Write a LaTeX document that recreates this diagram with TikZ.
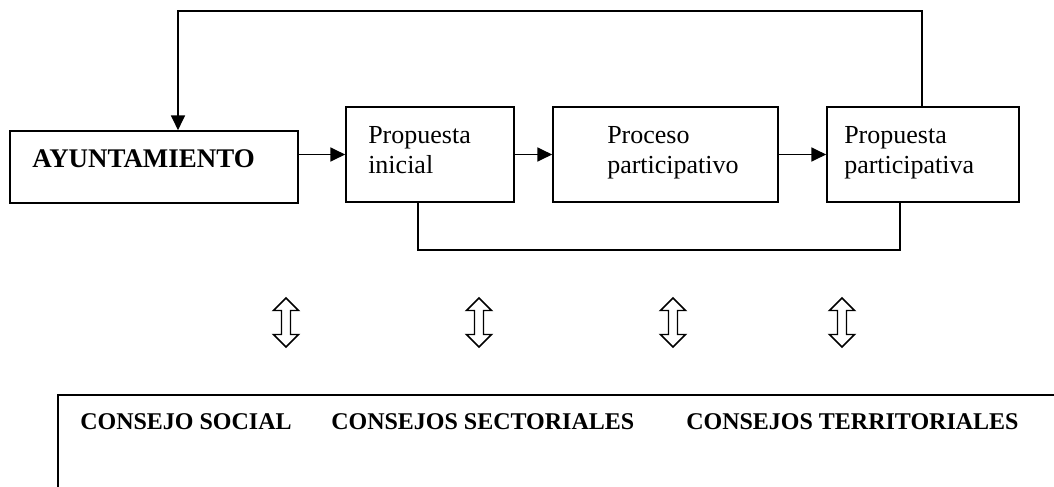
\documentclass[tikz,border=0pt]{standalone}
\usepackage{fontspec}
\setmainfont{Liberation Serif}
\usetikzlibrary{arrows.meta,fit}
\begin{document}
\begin{tikzpicture}[x=0.75pt,y=-0.75pt,
  box/.style={draw, line width=1.3pt, rectangle, inner sep=0pt},
  lbl/.style={anchor=base west, inner sep=0pt, align=left, font=\fontsize{19.5}{22}\selectfont},
  lblb/.style={anchor=base west, inner sep=0pt, font=\fontsize{20.2}{22.5}\selectfont\bfseries},
  lbls/.style={anchor=base west, inner sep=0pt, font=\fontsize{18}{21}\selectfont\bfseries},
  conn/.style={line width=1pt},
  arr/.style={conn, -{Triangle[length=11pt,width=10.5pt]}},
  dblarrow/.pic={\draw[line width=1.1pt, line join=miter]
      (0,-24.5) -- (12.5,-12) -- (4.5,-12) -- (4.5,12) -- (12.5,12) -- (0,24.5)
      -- (-12.5,12) -- (-4.5,12) -- (-4.5,-12) -- (-12.5,-12) -- cycle;}
]
\useasboundingbox (0,0) rectangle (1054,486);
\clip (0,0) rectangle (1054,486);

% boxes
\node[box, fit={(10,131) (298,203)}] (A) {};
\node[box, fit={(346,107) (514,202)}] (B) {};
\node[box, fit={(553,107) (778,202)}] (C) {};
\node[box, fit={(827,107) (1019,202)}] (D) {};
\node[box, fit={(58,395) (1080,520)}] (E) {};

% texts (base = baseline of last line)
\node[lblb] (tA) at (32,167) {AYUNTAMIENTO};
\node[lbl] (tB) at (368,173) {Propuesta\\inicial};
\node[lbl] (tC) at (607,173) {Proceso\\participativo};
\node[lbl] (tD) at (844,173) {Propuesta\\participativa};
\node[lbls] (t1) at (80,429) {CONSEJO SOCIAL};
\node[lbls] (t2) at (331,429) {CONSEJOS SECTORIALES};
\node[lbls] (t3) at (686,429) {CONSEJOS TERRITORIALES};

% connectors
\draw[arr] (A.east |- B.west) -- (B.west);
\draw[arr] (B.east) -- (C.west);
\draw[arr] (C.east) -- (D.west);

\coordinate (fbR) at (922,11);
\coordinate (fbL) at (178,11);
\draw[arr] (D.north -| fbR) -- (fbR) -- (fbL) -- (A.north -| fbL);

\coordinate (lpL) at (418,250);
\coordinate (lpR) at (900,250);
\draw[conn] (B.south -| lpL) -- (lpL) -- (lpR) -- (D.south -| lpR);

% double arrows
\pic at (286,322.5) {dblarrow};
\pic at (479,322.5) {dblarrow};
\pic at (673,322.5) {dblarrow};
\pic at (842,322.5) {dblarrow};
\end{tikzpicture}
\end{document}
